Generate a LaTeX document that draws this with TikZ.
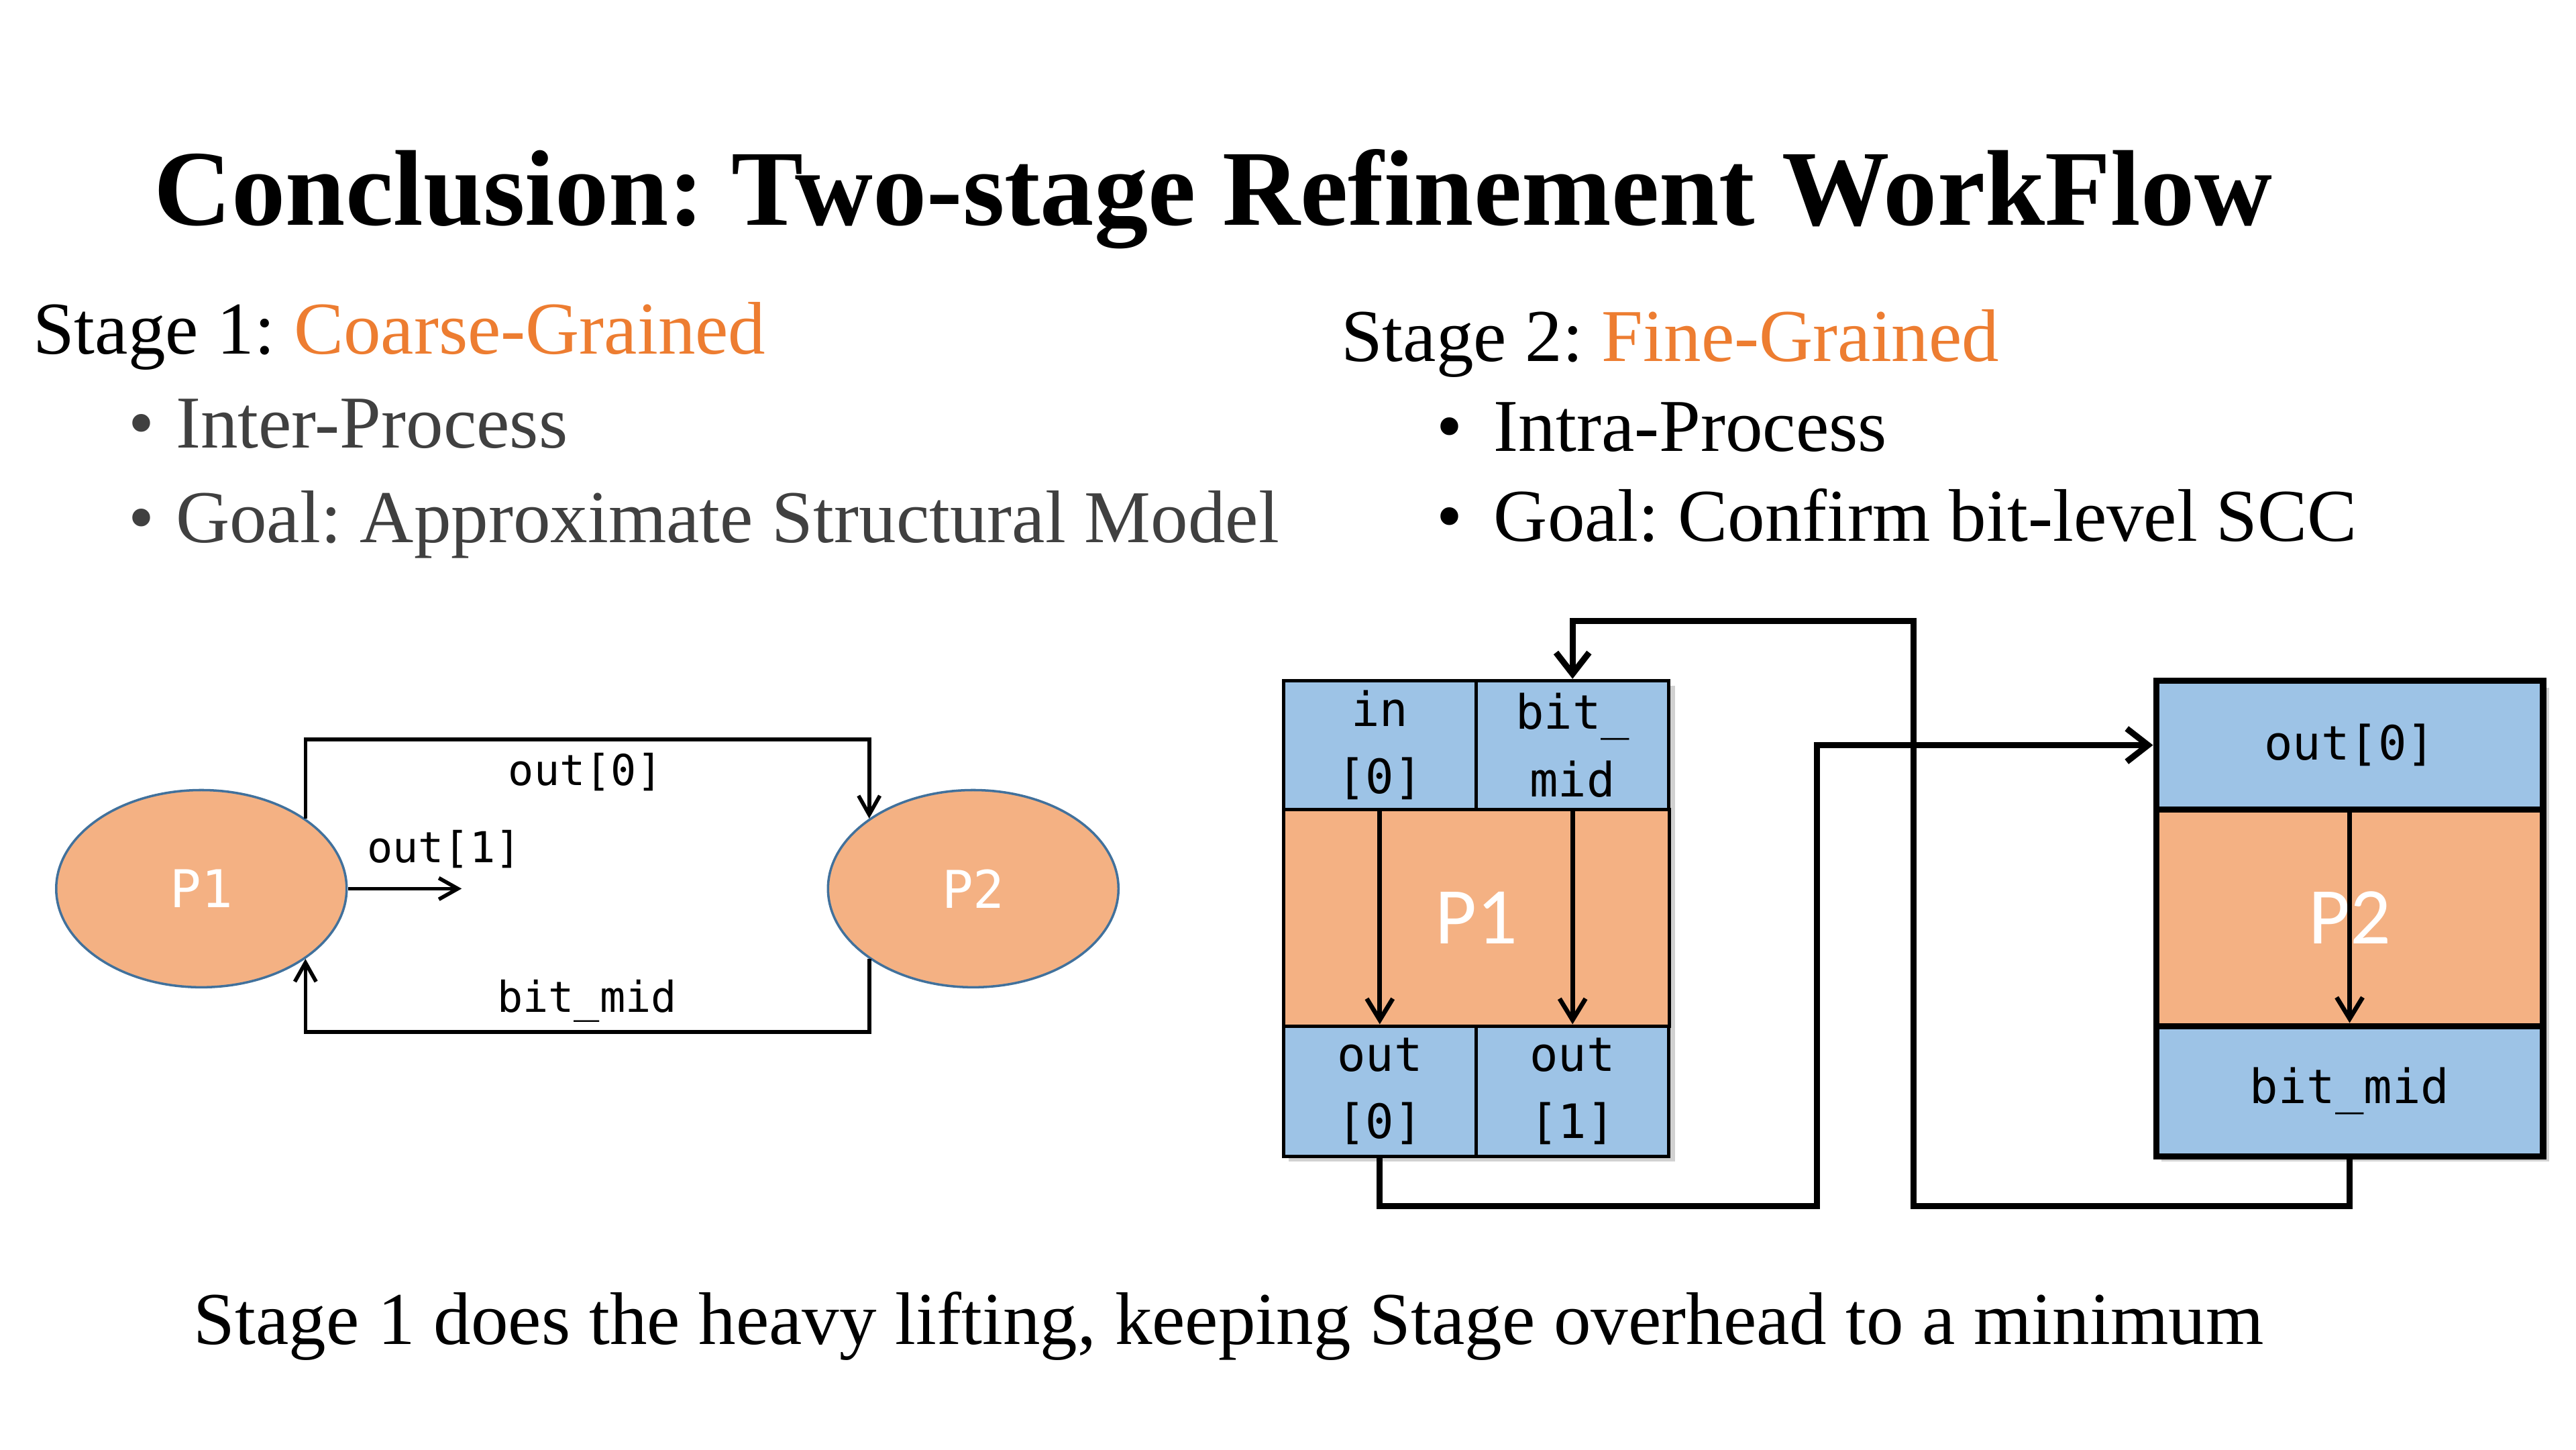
\documentclass[tikz,border=0pt]{standalone}
\usepackage{fontspec}
\setmainfont{Liberation Serif}
\newfontfamily\monof{DejaVu Sans Mono}
\newfontfamily\calf{Carlito}
\usetikzlibrary{arrows.meta,shapes.geometric}
\definecolor{orangeT}{HTML}{ED7D31}
\definecolor{grayT}{HTML}{404040}
\definecolor{peach}{HTML}{F4B183}
\definecolor{cellblue}{HTML}{9DC3E6}
\definecolor{ellborder}{HTML}{41719C}
\newlength\uu \setlength\uu{0.6943pt}
\frenchspacing
\begin{document}
\begin{tikzpicture}[x=0.6943pt, y=-0.6943pt,
  txt/.style={anchor=base west, inner sep=0pt, font=\fontsize{31.5}{36}\selectfont},
  lbl/.style={anchor=base, inner sep=0pt, font=\monof\fontsize{18}{22}\selectfont},
  ell/.style={ellipse, draw=ellborder, line width=1pt, fill=peach, inner sep=0pt,
    minimum width=122.75pt, minimum height=83.32pt, text=white, font=\monof\fontsize{22}{26}\selectfont},
  lconn/.style={line width=1.6pt, -{Straight Barb[length=8pt,width=9pt]}},
  cell/.style={rectangle, draw=black, line width=1.5pt, fill=cellblue, inner sep=0pt,
    minimum width=81.3pt, minimum height=54.5pt, align=center, font=\monof\fontsize{20}{28.5}\selectfont},
  core/.style={rectangle, draw=black, line width=1.5pt, fill=peach, inner sep=0pt,
    minimum height=91.5pt, text=white, font=\calf\fontsize{34}{40}\selectfont},
  inarrow/.style={line width=1.9pt, -{Straight Barb[length=9pt,width=11pt]}},
  conn/.style={line width=2.6pt, -{Straight Barb[length=9pt,width=14pt]}},
  shadowbox/.style={fill=black, opacity=0.18}
]
\useasboundingbox (0,0) rectangle (1568,882);

% Title
\node[anchor=base, inner sep=0pt, font=\bfseries\fontsize{45.5}{50}\selectfont] (title) at (738.5,136.8) {Conclusion: Two-stage Refinement WorkFlow};

% Stage 1
\node[txt] (s1) at (19.8,215.5) {Stage 1: \textcolor{orangeT}{Coarse-Grained}};
\node[txt, text=grayT] (s1a) at (78,272.6) {\makebox[28.8\uu][l]{•}Inter-Process};
\node[txt, text=grayT] (s1b) at (78,330) {\makebox[28.8\uu][l]{•}Goal: Approximate Structural Model};

% Stage 2
\node[txt] (s2) at (816,219.7) {Stage 2: \textcolor{orangeT}{Fine-Grained}};
\node[txt] (s2a) at (874,274.7) {\makebox[35\uu][l]{•}Intra-Process};
\node[txt] (s2b) at (874,329.4) {\makebox[35\uu][l]{•}Goal: Confirm bit-level SCC};

% Bottom
\node[txt] (bottom) at (117.6,818) {Stage 1 does the heavy lifting, keeping Stage overhead to a minimum};

% ---------- Left diagram ----------
\node[ell] (e1) at (122.6,540.8) {P1};
\node[ell] (e2) at (592.4,540.8) {P2};
\coordinate (ltop) at (357,450);
\coordinate (lbot) at (357,628);
\coordinate (o1end) at (281,540.8);
\draw[lconn] (e1.34) |- (ltop) -| (e2.146);
\draw[lconn] (e2.-146) |- (lbot) -| (e1.-34);
\draw[lconn] (e1.east) -- (o1end);
\node[lbl] (l0) at (356.3,478) {out[0]};
\node[lbl] (l1) at (270.3,525) {out[1]};
\node[lbl] (l2) at (357.3,615.8) {bit\_mid};

% ---------- Right diagram ----------
\fill[shadowbox] (784.5,417.5) rectangle (1019.5,707);
\fill[shadowbox] (1315.5,418.5) rectangle (1551.5,707);

\node[cell] (p1in) at (839.85,453.45) {in\\{}[0]};
\node[cell] (p1bm) at (957.2,453.45) {bit\_\\{}mid};
\node[core, minimum width=162.95pt] (p1core) at (898.65,558.5) {P1};
\node[cell, minimum height=55pt] (p1o0) at (839.85,664) {out\\{}[0]};
\node[cell, minimum height=55pt] (p1o1) at (957.2,664) {out\\{}[1]};

\node[cell, line width=2.6pt, minimum width=163.58pt] (p2o0) at (1430.2,453.45) {out[0]};
\node[core, line width=2.6pt, minimum width=163.58pt] (p2core) at (1430.2,558.5) {P2};
\node[cell, line width=2.6pt, minimum width=163.58pt, minimum height=55pt] (p2bm) at (1430.2,664) {bit\_mid};

\draw[inarrow] (p1in.south) -- (p1o0.north);
\draw[inarrow] (p1bm.south) -- (p1o1.north);
\draw[inarrow] (p2o0.south) -- (p2bm.north);

\coordinate (c1) at (1105.8,733.8);
\coordinate (c2) at (1164.8,733.8);
\coordinate (c3) at (1164.8,378);
\draw[conn] (p1o0.south) |- (c1) |- (p2o0.west);
\draw[conn] (p2bm.south) |- (c2) -- (c3) -| (p1bm.north);
\end{tikzpicture}
\end{document}
